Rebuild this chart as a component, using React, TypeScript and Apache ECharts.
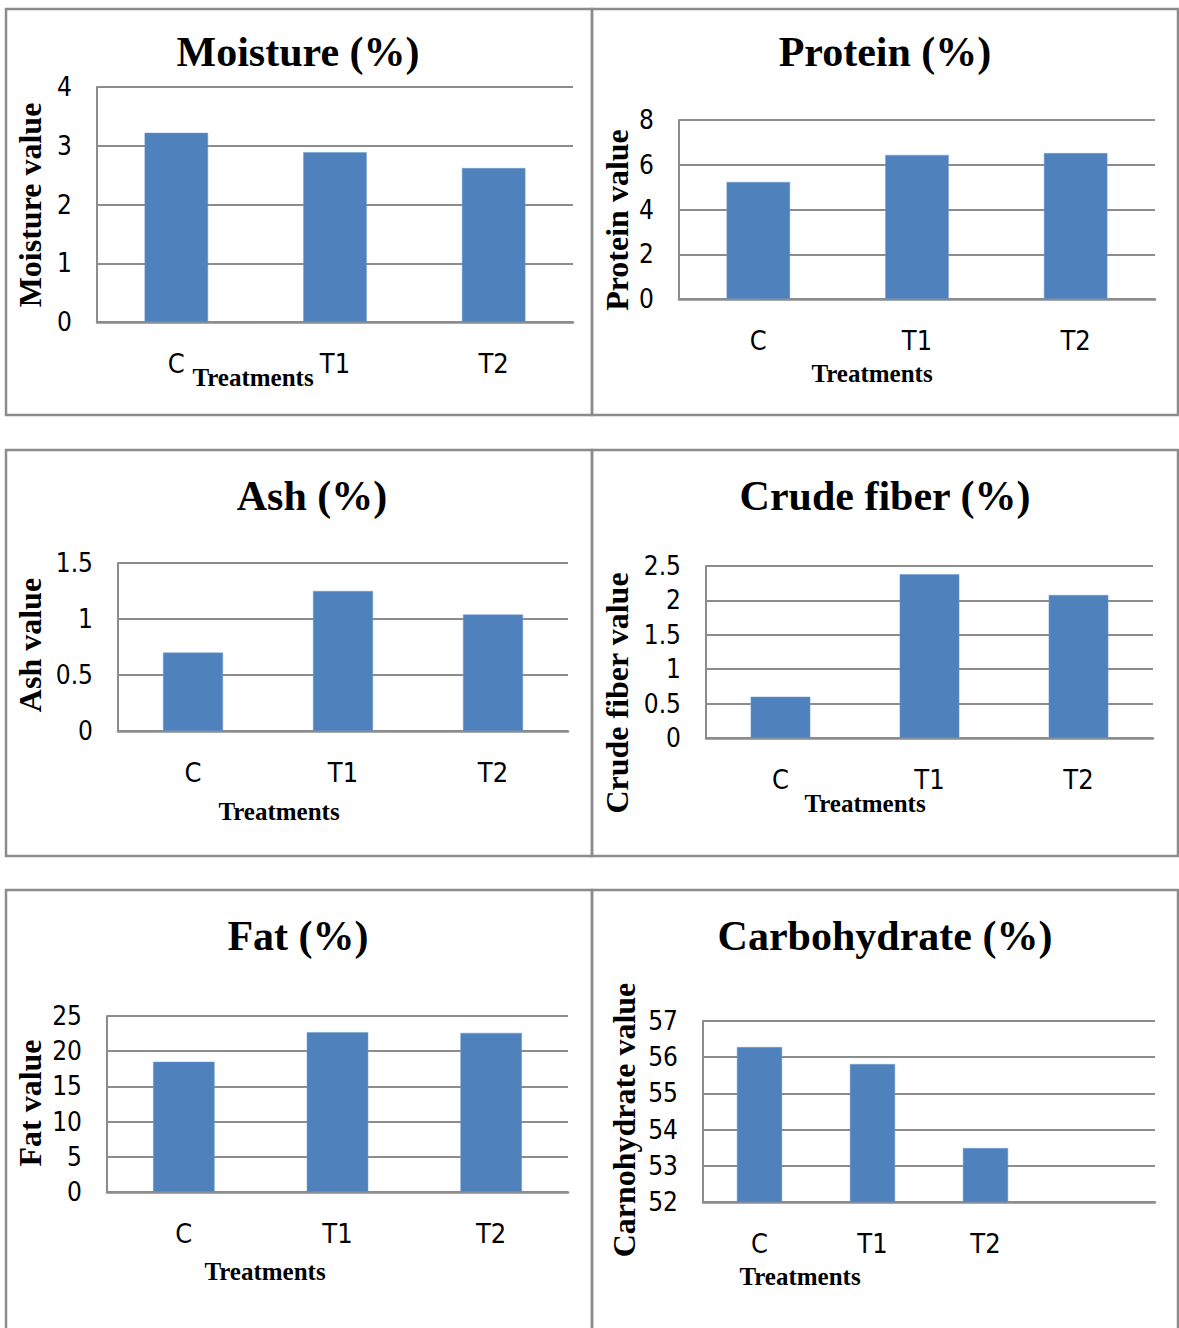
import React, { useEffect, useRef } from "react";
import * as echarts from "echarts";

// ---- Data ----
const categories = ["C", "T1", "T2"];
const carbCategories = ["C", "T1", "T2", ""];
const moisture = [3.22, 2.89, 2.62];
const protein = [5.23, 6.44, 6.52];
const ash = [0.7, 1.25, 1.04];
const crudeFiber = [0.6, 2.38, 2.08];
const fat = [18.5, 22.7, 22.6];
const carbohydrate = [56.28, 55.81, 53.49];

const titles = ["Moisture (%)", "Protein (%)", "Ash (%)", "Crude fiber (%)", "Fat (%)", "Carbohydrate (%)"];
const yNames = ["Moisture value", "Protein value", "Ash value", "Crude fiber value", "Fat value", "Carnohydrate value"];
const xName = "Treatments";
const yMins = [0, 0, 0, 0, 0, 52];
const yMaxs = [4, 8, 1.5, 2.5, 25, 57];
const yIntervals = [1, 2, 0.5, 0.5, 5, 1];

// ---- Layout (pixels) ----
const grids = [
  { left: 97, top: 87, width: 476, height: 235 },
  { left: 679, top: 120, width: 476, height: 179 },
  { left: 118, top: 563, width: 450, height: 168 },
  { left: 706, top: 566, width: 447, height: 172 },
  { left: 107, top: 1016, width: 461, height: 176 },
  { left: 703, top: 1021, width: 452, height: 181 },
];
const titlePos = [
  [298, 56], [885, 56], [312, 500], [885, 500], [298, 940], [885, 940],
];
const yNamePos = [
  [30, 205], [617, 220], [30, 645], [617, 693], [30, 1103], [624, 1120],
];
const xNamePos = [
  [253, 377], [872, 373], [279, 811], [865, 803], [265, 1271], [800, 1276],
];
const panels = [
  { x: 6, y: 9, w: 586, h: 406 },
  { x: 592, y: 9, w: 586, h: 406 },
  { x: 6, y: 450, w: 586, h: 406 },
  { x: 592, y: 450, w: 586, h: 406 },
  { x: 6, y: 890, w: 586, h: 460 },
  { x: 592, y: 890, w: 586, h: 460 },
];

const SERIF = "'Liberation Serif', 'Times New Roman', serif";
const NARROW = "'Liberation Sans Narrow', 'Arial Narrow', 'DejaVu Sans Condensed', sans-serif";
const GRAY = "#8c8c8c";
const BAR = "#4f81bd";

export default function App() {
  const ref = useRef<HTMLDivElement>(null);
  useEffect(() => {
    if (!ref.current) return;
    const chart = echarts.init(ref.current, null, { renderer: "svg" });
    const seriesData = [moisture, protein, ash, crudeFiber, fat, carbohydrate];

    const graphic: any[] = [];
    panels.forEach((p) => {
      graphic.push({
        type: "rect",
        shape: { x: p.x, y: p.y, width: p.w, height: p.h },
        style: { fill: "none", stroke: GRAY, lineWidth: 2.5 },
        silent: true,
      });
    });
    yNames.forEach((n, i) => {
      graphic.push({
        type: "text",
        x: yNamePos[i][0],
        y: yNamePos[i][1],
        rotation: Math.PI / 2,
        style: {
          text: n,
          font: `bold 32px ${SERIF}`,
          fill: "#000",
          align: "center",
          verticalAlign: "middle",
        },
      });
    });
    xNamePos.forEach((pos) => {
      graphic.push({
        type: "text",
        x: pos[0],
        y: pos[1],
        style: {
          text: xName,
          font: `bold 25px ${SERIF}`,
          fill: "#000",
          align: "center",
          verticalAlign: "middle",
        },
      });
    });

    const option: any = {
      animation: false,
      backgroundColor: "#fff",
      title: titles.map((t, i) => ({
        text: t,
        left: titlePos[i][0],
        top: titlePos[i][1] - 25,
        textAlign: "center",
        padding: 0,
        textStyle: { fontFamily: SERIF, fontWeight: "bold", fontSize: 42, color: "#000" },
      })),
      grid: grids.map((g) => ({ ...g, containLabel: false })),
      xAxis: grids.map((_, i) => ({
        type: "category",
        gridIndex: i,
        data: i === 5 ? carbCategories : categories,
        axisLine: { show: true, lineStyle: { color: GRAY, width: 2.5 } },
        axisTick: { show: false },
        axisLabel: { margin: 28, fontFamily: NARROW, fontSize: 27, color: "#000" },
      })),
      yAxis: grids.map((_, i) => ({
        type: "value",
        gridIndex: i,
        min: yMins[i],
        max: yMaxs[i],
        interval: yIntervals[i],
        axisLine: { show: true, lineStyle: { color: GRAY, width: 2 } },
        axisTick: { show: false },
        splitLine: { show: true, lineStyle: { color: GRAY, width: 1.8 } },
        axisLabel: { margin: 25, fontFamily: NARROW, fontSize: 26, color: "#000" },
      })),
      series: seriesData.map((d, i) => ({
        type: "bar",
        xAxisIndex: i,
        yAxisIndex: i,
        data: d,
        barWidth: "40%",
        itemStyle: { color: BAR, borderColor: "#6f9ad0", borderWidth: 0.5 },
      })),
      graphic,
    };
    chart.setOption(option);
    return () => chart.dispose();
  }, []);
  return (
    <div
      ref={ref}
      style={{ position: "absolute", left: 0, top: 0, width: 1179, height: 1328, background: "#fff" }}
    />
  );
}
